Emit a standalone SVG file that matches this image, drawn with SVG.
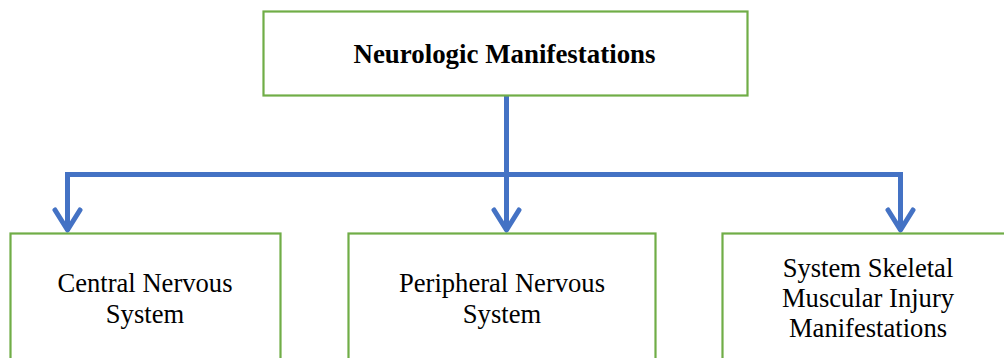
<svg xmlns="http://www.w3.org/2000/svg" width="1004" height="358" viewBox="0 0 1004 358">
<style>
.box{fill:#fff;stroke:#70AD47;stroke-width:2.2}
.t{font-family:"Liberation Serif","Times New Roman",serif;font-size:26.6px;fill:#000;text-anchor:middle}
.b{font-weight:bold;font-size:26.9px}
.c{fill:none;stroke:#4472C4;stroke-width:5;stroke-linejoin:miter}
.h{fill:none;stroke:#4472C4;stroke-width:5;stroke-linecap:round;stroke-linejoin:round}
</style>
<rect width="1004" height="358" fill="#fff"/>
<g id="connectors">
<path class="c" d="M506.5 96 V174.5 M67.5 231 V174.5 H900.5 V231 M506.5 174.5 V231"/>
<path class="h" d="M55 210 L67.5 230 L80 210"/>
<path class="h" d="M494 210 L506.5 230 L519 210"/>
<path class="h" d="M888 210 L900.5 230 L913 210"/>
</g>
<g id="node-top">
<rect class="box" x="263.5" y="11.5" width="484" height="84"/>
<text class="t b" x="504.5" y="63">Neurologic Manifestations</text>
</g>
<g id="node-cns">
<rect class="box" x="10.5" y="233.5" width="270" height="140"/>
<text class="t" x="145" y="292">Central Nervous</text>
<text class="t" x="145" y="323">System</text>
</g>
<g id="node-pns">
<rect class="box" x="348.5" y="233.5" width="307" height="140"/>
<text class="t" x="502" y="292">Peripheral Nervous</text>
<text class="t" x="502" y="323">System</text>
</g>
<g id="node-skeletal">
<rect class="box" x="722.5" y="233.5" width="300" height="140"/>
<text class="t" x="868" y="277">System Skeletal</text>
<text class="t" x="868" y="307">Muscular Injury</text>
<text class="t" x="868" y="337">Manifestations</text>
</g>
</svg>
